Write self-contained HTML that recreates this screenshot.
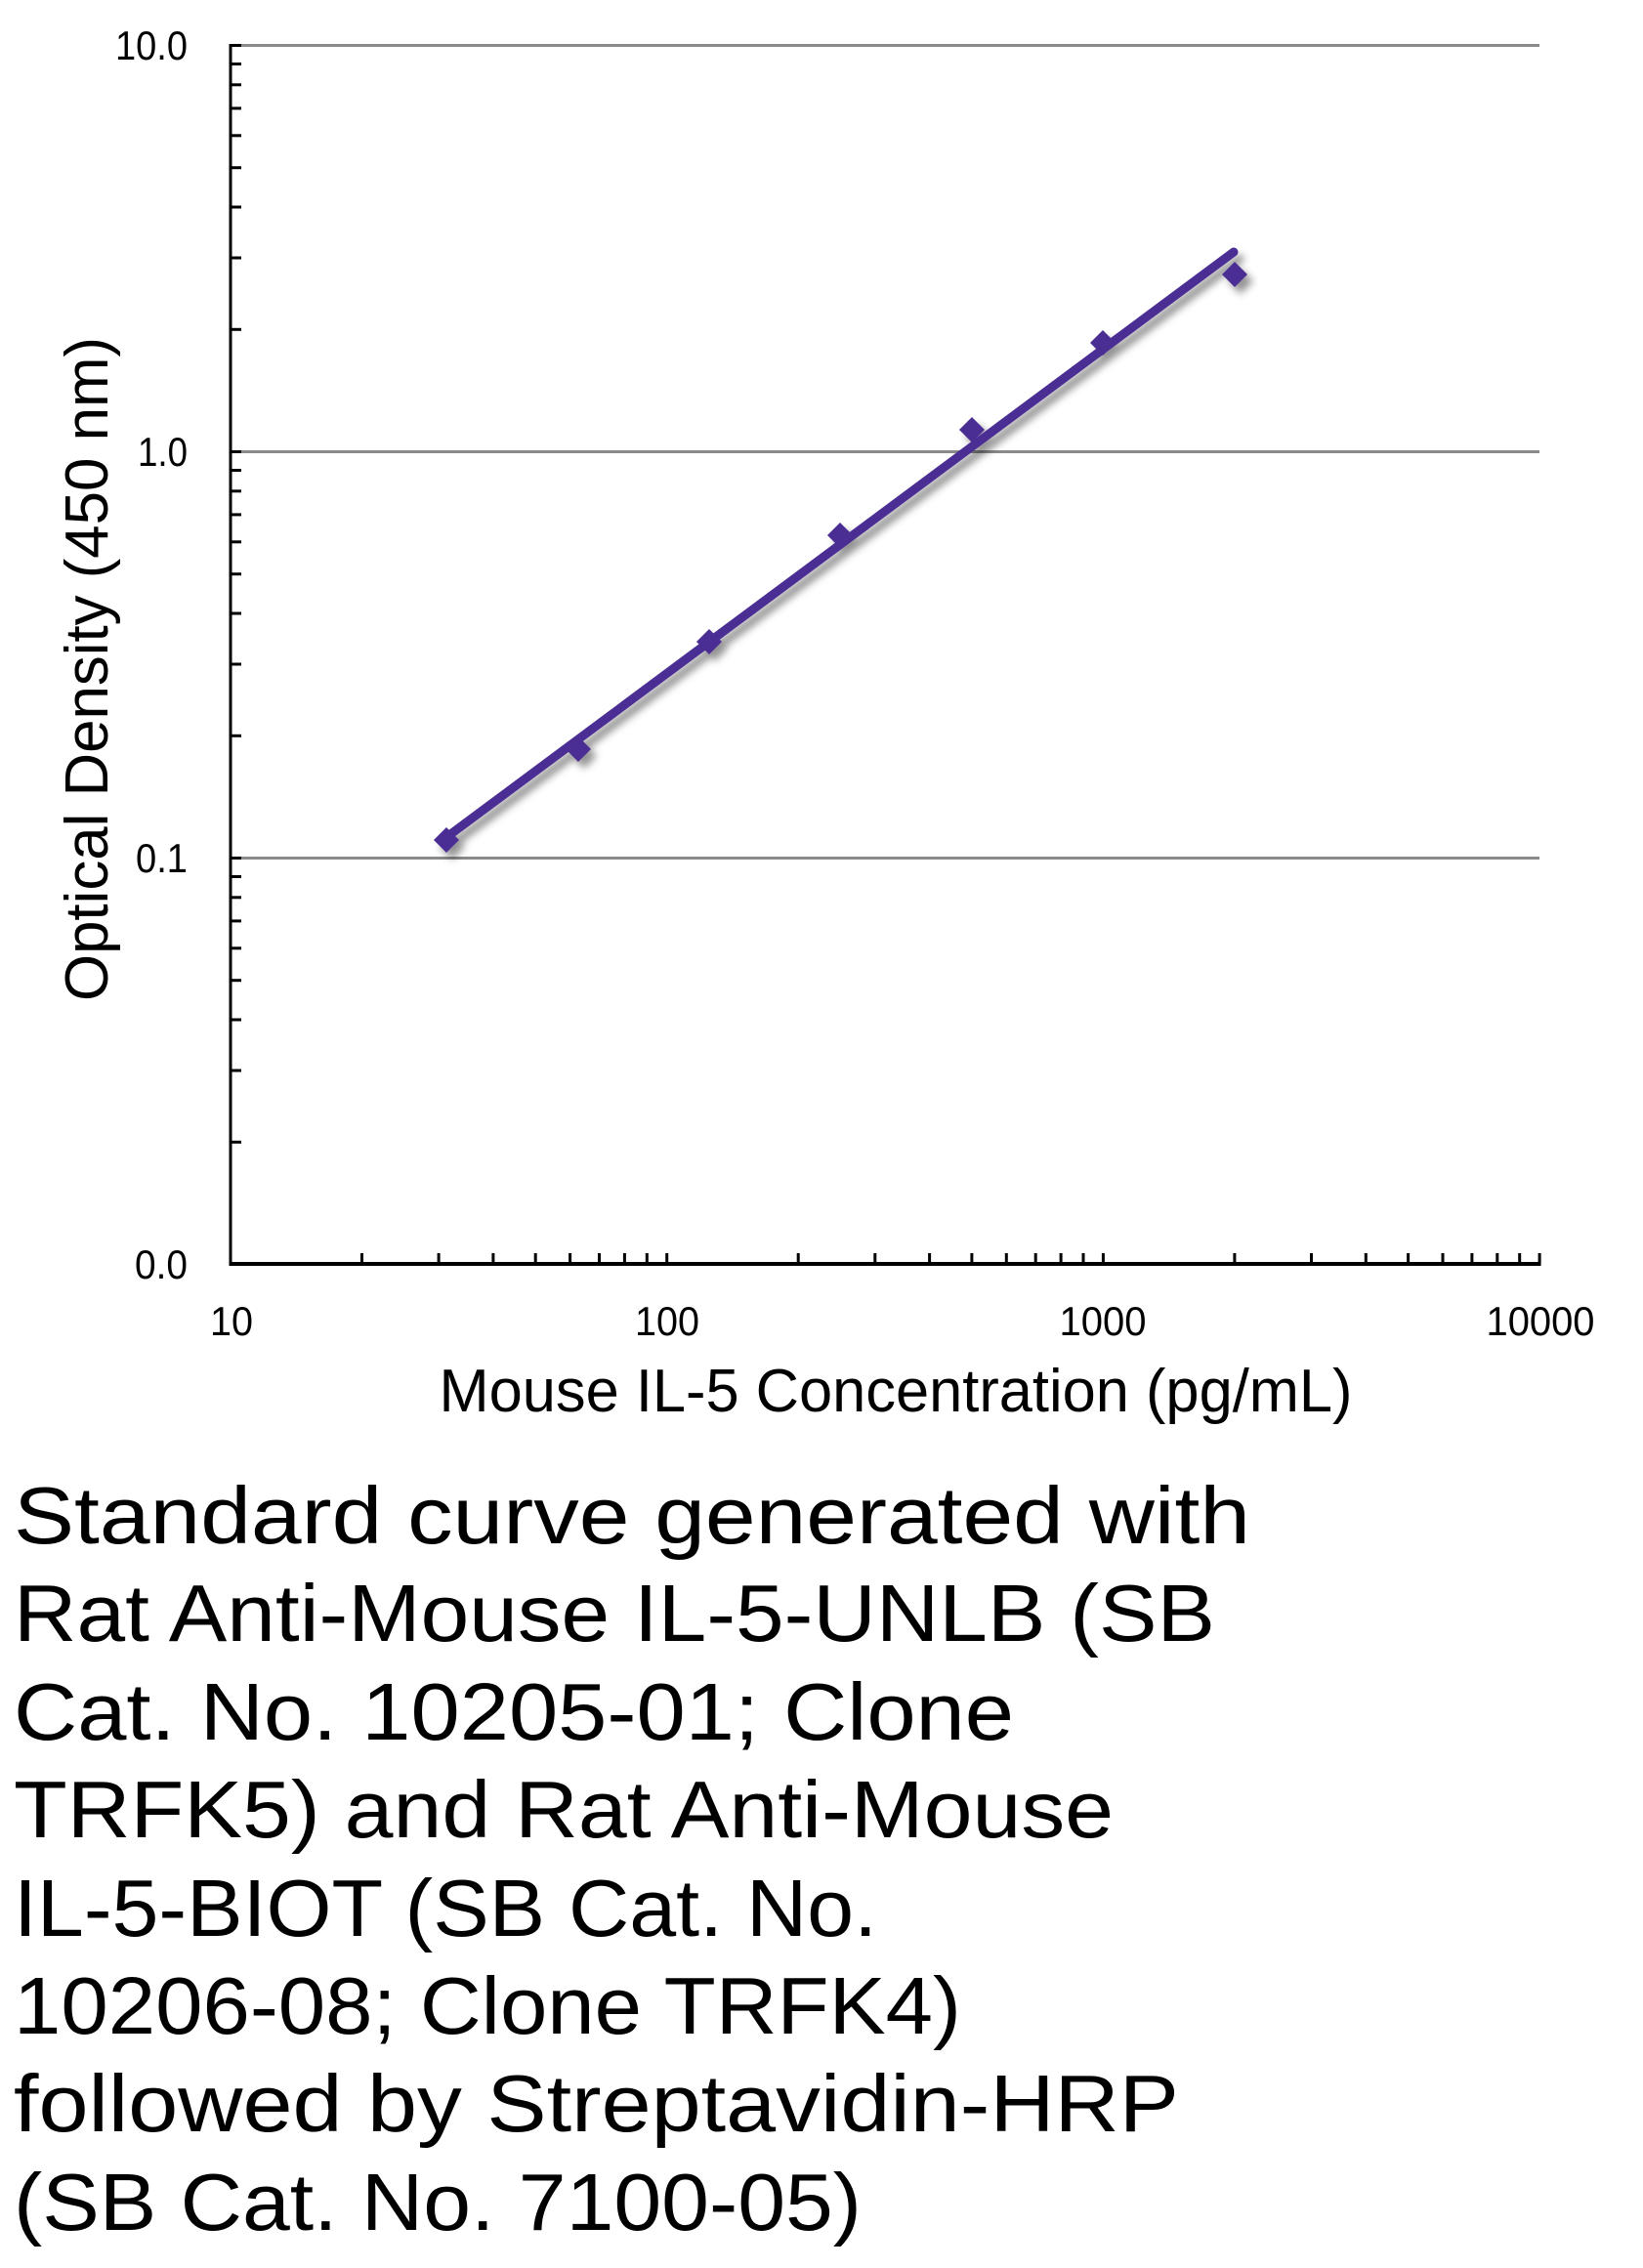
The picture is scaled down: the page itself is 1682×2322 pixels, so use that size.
<!DOCTYPE html>
<html>
<head>
<meta charset="utf-8">
<style>
  html, body { margin: 0; padding: 0; background: #ffffff; }
  body { width: 1682px; height: 2322px; overflow: hidden; }
  svg { display: block; }
  text { font-family: "Liberation Sans", "DejaVu Sans", sans-serif; fill: #000; }
</style>
</head>
<body>
<svg width="1682" height="2322" viewBox="0 0 1682 2322" xmlns="http://www.w3.org/2000/svg">
  <defs>
    <filter id="sh" x="-20%" y="-20%" width="140%" height="140%">
      <feDropShadow dx="6" dy="7" stdDeviation="4" flood-color="#000" flood-opacity="0.42"/>
    </filter>
  </defs>
  <rect x="0" y="0" width="1682" height="2322" fill="#fff"/>

  <!-- gridlines -->
  <g stroke="#8a8a8a" stroke-width="3">
    <line x1="236" y1="46.5" x2="1576" y2="46.5"/>
    <line x1="236" y1="462.5" x2="1576" y2="462.5"/>
    <line x1="236" y1="878.5" x2="1576" y2="878.5"/>
  </g>

  <!-- y axis -->
  <g stroke="#000" stroke-width="3">
    <line x1="236" y1="45" x2="236" y2="1295.5"/>
    <line x1="236" y1="46.5" x2="247" y2="46.5"/>
    <line x1="236" y1="462.5" x2="247" y2="462.5"/>
    <line x1="236" y1="878.5" x2="247" y2="878.5"/>
    <line x1="236" y1="337.3" x2="247" y2="337.3"/>
    <line x1="236" y1="264.0" x2="247" y2="264.0"/>
    <line x1="236" y1="212.0" x2="247" y2="212.0"/>
    <line x1="236" y1="171.7" x2="247" y2="171.7"/>
    <line x1="236" y1="138.8" x2="247" y2="138.8"/>
    <line x1="236" y1="110.9" x2="247" y2="110.9"/>
    <line x1="236" y1="86.8" x2="247" y2="86.8"/>
    <line x1="236" y1="65.5" x2="247" y2="65.5"/>
    <line x1="236" y1="753.3" x2="247" y2="753.3"/>
    <line x1="236" y1="680.0" x2="247" y2="680.0"/>
    <line x1="236" y1="628.0" x2="247" y2="628.0"/>
    <line x1="236" y1="587.7" x2="247" y2="587.7"/>
    <line x1="236" y1="554.8" x2="247" y2="554.8"/>
    <line x1="236" y1="526.9" x2="247" y2="526.9"/>
    <line x1="236" y1="502.8" x2="247" y2="502.8"/>
    <line x1="236" y1="481.5" x2="247" y2="481.5"/>
    <line x1="236" y1="1169.3" x2="247" y2="1169.3"/>
    <line x1="236" y1="1096.0" x2="247" y2="1096.0"/>
    <line x1="236" y1="1044.0" x2="247" y2="1044.0"/>
    <line x1="236" y1="1003.7" x2="247" y2="1003.7"/>
    <line x1="236" y1="970.8" x2="247" y2="970.8"/>
    <line x1="236" y1="942.9" x2="247" y2="942.9"/>
    <line x1="236" y1="918.8" x2="247" y2="918.8"/>
    <line x1="236" y1="897.5" x2="247" y2="897.5"/>
  </g>

  <!-- x axis -->
  <line x1="234.5" y1="1294" x2="1577.5" y2="1294" stroke="#000" stroke-width="4"/>
  <g stroke="#000" stroke-width="3">
    <line x1="370.5" y1="1294" x2="370.5" y2="1283"/>
    <line x1="449.1" y1="1294" x2="449.1" y2="1283"/>
    <line x1="504.9" y1="1294" x2="504.9" y2="1283"/>
    <line x1="548.2" y1="1294" x2="548.2" y2="1283"/>
    <line x1="583.6" y1="1294" x2="583.6" y2="1283"/>
    <line x1="613.5" y1="1294" x2="613.5" y2="1283"/>
    <line x1="639.4" y1="1294" x2="639.4" y2="1283"/>
    <line x1="662.3" y1="1294" x2="662.3" y2="1283"/>
    <line x1="682.7" y1="1294" x2="682.7" y2="1283"/>
    <line x1="817.2" y1="1294" x2="817.2" y2="1283"/>
    <line x1="895.8" y1="1294" x2="895.8" y2="1283"/>
    <line x1="951.6" y1="1294" x2="951.6" y2="1283"/>
    <line x1="994.9" y1="1294" x2="994.9" y2="1283"/>
    <line x1="1030.3" y1="1294" x2="1030.3" y2="1283"/>
    <line x1="1060.2" y1="1294" x2="1060.2" y2="1283"/>
    <line x1="1086.1" y1="1294" x2="1086.1" y2="1283"/>
    <line x1="1109.0" y1="1294" x2="1109.0" y2="1283"/>
    <line x1="1129.4" y1="1294" x2="1129.4" y2="1283"/>
    <line x1="1263.9" y1="1294" x2="1263.9" y2="1283"/>
    <line x1="1342.5" y1="1294" x2="1342.5" y2="1283"/>
    <line x1="1398.3" y1="1294" x2="1398.3" y2="1283"/>
    <line x1="1441.6" y1="1294" x2="1441.6" y2="1283"/>
    <line x1="1477.0" y1="1294" x2="1477.0" y2="1283"/>
    <line x1="1506.9" y1="1294" x2="1506.9" y2="1283"/>
    <line x1="1532.8" y1="1294" x2="1532.8" y2="1283"/>
    <line x1="1555.7" y1="1294" x2="1555.7" y2="1283"/>
    <line x1="1576.1" y1="1294" x2="1576.1" y2="1283"/>
  </g>

  <!-- series -->
  <g filter="url(#sh)">
    <line x1="456" y1="858" x2="1263" y2="258" stroke="#4b2e93" stroke-width="9" stroke-linecap="round"/>
    <g fill="#4b2e93">
      <polygon points="457,847 470,860 457,873 444,860"/>
      <polygon points="592,754 605,767 592,780 579,767"/>
      <polygon points="726,644 739,657 726,670 713,657"/>
      <polygon points="860,535 873,548 860,561 847,548"/>
      <polygon points="995,427 1008,440 995,453 982,440"/>
      <polygon points="1129,338 1142,351 1129,364 1116,351"/>
      <polygon points="1264,268 1277,281 1264,294 1251,281"/>
    </g>
  </g>

  <!-- y tick labels -->
  <g font-size="42" text-anchor="end">
    <text x="192" y="61" textLength="74" lengthAdjust="spacingAndGlyphs">10.0</text>
    <text x="192" y="477" textLength="51" lengthAdjust="spacingAndGlyphs">1.0</text>
    <text x="192" y="893" textLength="53" lengthAdjust="spacingAndGlyphs">0.1</text>
    <text x="192" y="1309" textLength="54" lengthAdjust="spacingAndGlyphs">0.0</text>
  </g>

  <!-- x tick labels -->
  <g font-size="42" text-anchor="middle">
    <text x="237" y="1367" textLength="44" lengthAdjust="spacingAndGlyphs">10</text>
    <text x="683" y="1367" textLength="66" lengthAdjust="spacingAndGlyphs">100</text>
    <text x="1129" y="1367" textLength="89" lengthAdjust="spacingAndGlyphs">1000</text>
    <text x="1577" y="1367" textLength="111" lengthAdjust="spacingAndGlyphs">10000</text>
  </g>

  <!-- axis titles -->
  <text x="917" y="1445" font-size="62" text-anchor="middle" textLength="935" lengthAdjust="spacingAndGlyphs">Mouse IL-5 Concentration (pg/mL)</text>
  <text transform="translate(110,685) rotate(-90)" font-size="62" text-anchor="middle" textLength="680" lengthAdjust="spacingAndGlyphs">Optical Density (450 nm)</text>

  <!-- caption -->
  <g font-size="83">
    <text x="14" y="1580" textLength="1266" lengthAdjust="spacingAndGlyphs">Standard curve generated with</text>
    <text x="14" y="1680" textLength="1230" lengthAdjust="spacingAndGlyphs">Rat Anti-Mouse IL-5-UNLB (SB</text>
    <text x="14" y="1781" textLength="1024" lengthAdjust="spacingAndGlyphs">Cat. No. 10205-01; Clone</text>
    <text x="14" y="1881" textLength="1126" lengthAdjust="spacingAndGlyphs">TRFK5) and Rat Anti-Mouse</text>
    <text x="14" y="1982" textLength="884" lengthAdjust="spacingAndGlyphs">IL-5-BIOT (SB Cat. No.</text>
    <text x="14" y="2082" textLength="970" lengthAdjust="spacingAndGlyphs">10206-08; Clone TRFK4)</text>
    <text x="14" y="2182" textLength="1193" lengthAdjust="spacingAndGlyphs">followed by Streptavidin-HRP</text>
    <text x="14" y="2283" textLength="868" lengthAdjust="spacingAndGlyphs">(SB Cat. No. 7100-05)</text>
  </g>
</svg>
</body>
</html>
